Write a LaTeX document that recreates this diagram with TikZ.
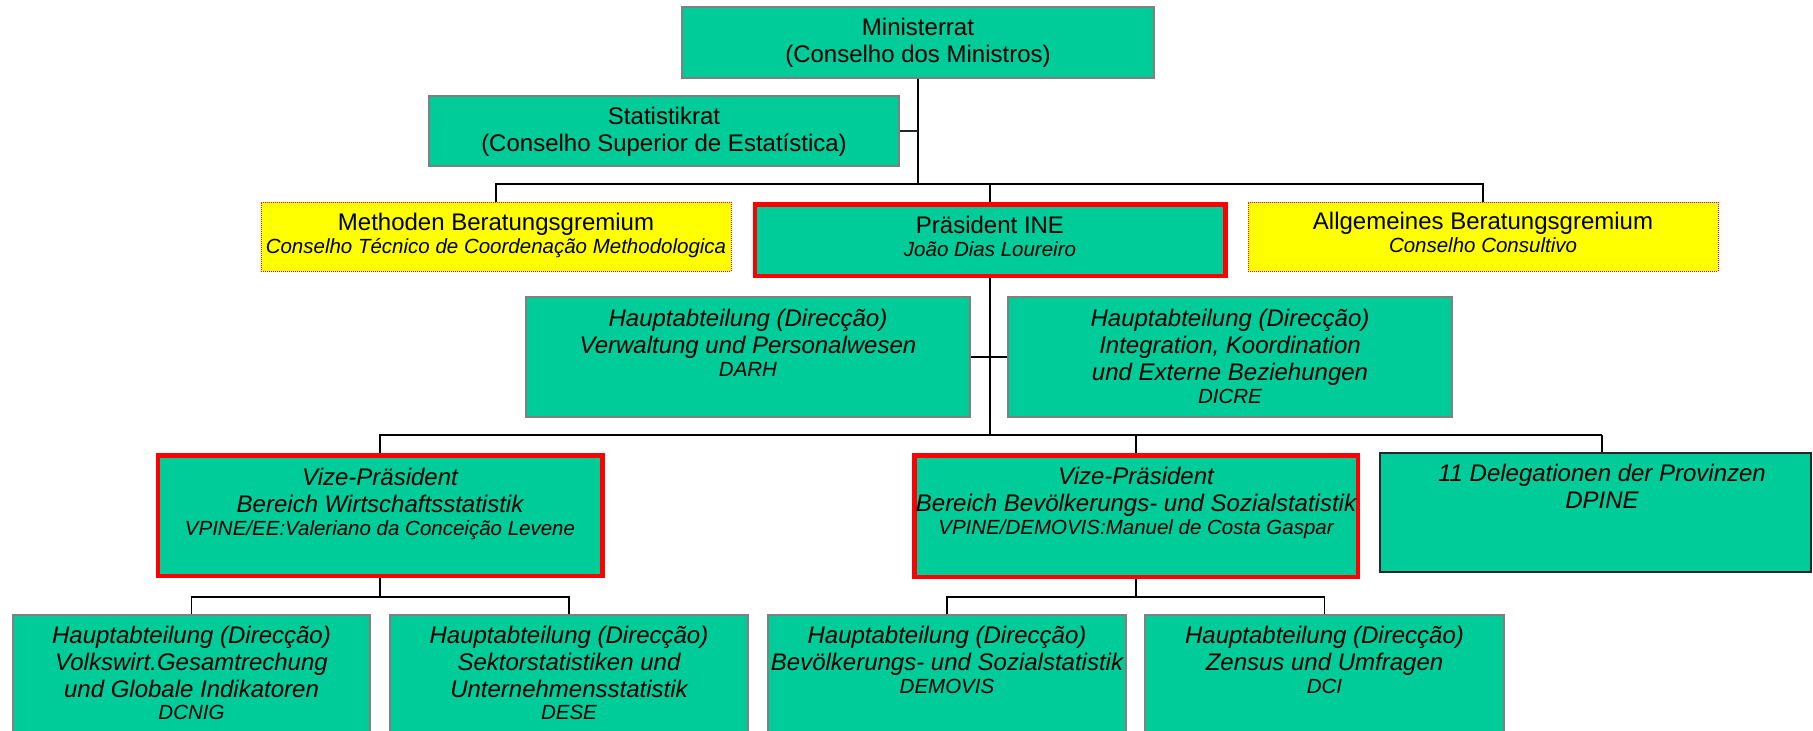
\documentclass[tikz,border=0pt]{standalone}
\usepackage{fontspec}
\setmainfont{Liberation Sans}
\definecolor{ingreen}{HTML}{00CC99}
\definecolor{boxgray}{HTML}{808080}
\definecolor{advyellow}{HTML}{FFFF00}
\newcommand\sm[1]{{\fontsize{20.5}{24}\selectfont\itshape #1}}
\newcommand\st{\rule{0pt}{19pt}}
\tikzset{
  box/.style={draw=boxgray, line width=1.5pt, fill=ingreen, inner sep=0pt},
  vpbox/.style={draw=red, line width=4.5pt, fill=ingreen, inner sep=0pt},
  advbox/.style={draw=red, densely dotted, line width=1pt, fill=advyellow, inner sep=0pt},
  delbox/.style={draw=black!85, line width=1.5pt, fill=ingreen, inner sep=0pt},
  txt/.style={align=center, inner sep=0pt, anchor=north, font=\fontsize{24}{27}\selectfont},
  itxt/.style={txt, font=\fontsize{24}{27}\selectfont\itshape},
  conn/.style={draw=black, line width=1.8pt},
}
\begin{document}
\begin{tikzpicture}[x=1pt,y=-1pt]
\useasboundingbox (0,0) rectangle (1813,731);
\clip (0,0) rectangle (1813,731);
% junctions
\coordinate (j1) at (918,184);
\coordinate (j2) at (990,435);
\coordinate (dj) at (1602,435);
\coordinate (j3) at (380,597);
\coordinate (j4) at (1136,597);
% connectors (drawn first, boxes on top)
\node[box, minimum width=472, minimum height=71] (min) at (918,42.5) {};
\node[box, minimum width=470, minimum height=70] (stat) at (664,131) {};
\node[advbox, minimum width=470, minimum height=69] (meth) at (496,236.5) {};
\node[vpbox, minimum width=470.5, minimum height=71.5] (pres) at (990,240) {};
\node[advbox, minimum width=470, minimum height=69] (allg) at (1483,236.5) {};
\node[box, minimum width=444, minimum height=120] (darh) at (748,357) {};
\node[box, minimum width=444, minimum height=120] (dicre) at (1230,357) {};
\node[vpbox, minimum width=444.5, minimum height=120.5] (vpa) at (380,515.5) {};
\node[vpbox, minimum width=443.5, minimum height=121.5] (vpb) at (1136,516) {};
\node[delbox, minimum width=431, minimum height=119] (del) at (1595.5,512.5) {};
\node[box, minimum width=357, minimum height=155] (dcnig) at (191.5,692.5) {};
\node[box, minimum width=358, minimum height=155] (dese) at (569,692.5) {};
\node[box, minimum width=358, minimum height=155] (demovis) at (947,692.5) {};
\node[box, minimum width=359, minimum height=155] (dci) at (1324.5,692.5) {};
% connectors
\draw[conn] (min.south) -- (j1);
\draw[conn, line width=2.4pt, draw=black!85] (stat.east) -- (stat.east -| min.south);
\draw[conn] (meth.north) |- (j1);
\draw[conn] (allg.north) |- (j1);
\draw[conn] (pres.north) -- (pres.north |- j1);
\draw[conn] (pres.south) -- (j2);
\draw[conn] (darh.east) -- (dicre.west);
\draw[conn] (vpa.north) |- (dj);
\draw[conn] (dj) -- (dj |- del.north);
\draw[conn] (vpb.north) -- (vpb.north |- j2);
\draw[conn] (vpa.south) -- (j3);
\draw[conn] (dcnig.north) |- (j3);
\draw[conn] (dese.north) |- (j3);
\draw[conn] (vpb.south) -- (j4);
\draw[conn] (demovis.north) |- (j4);
\draw[conn] (dci.north) |- (j4);
% texts
\node[txt] (tmin) at (918,16) {\st Ministerrat\\(Conselho dos Ministros)};
\node[txt] (tstat) at (664,105) {\st Statistikrat\\(Conselho Superior de Estatística)};
\node[txt] (tmeth) at (496,211) {\st Methoden Beratungsgremium\\[-3.5pt]\sm{Conselho Técnico de Coordenação Methodologica}};
\node[txt] (tpres) at (990,214) {\st Präsident INE\\[-3.5pt]\sm{João Dias Loureiro}};
\node[txt] (tallg) at (1483,210) {\st Allgemeines Beratungsgremium\\[-3.5pt]\sm{Conselho Consultivo}};
\node[itxt] (tdarh) at (748,307) {\st Hauptabteilung (Direcção)\\Verwaltung und Personalwesen\\[-3.5pt]\sm{DARH}};
\node[itxt] (tdicre) at (1230,307) {\st Hauptabteilung (Direcção)\\Integration, Koordination\\und Externe Beziehungen\\[-3.5pt]\sm{DICRE}};
\node[itxt] (tvpa) at (380,466) {\st Vize-Präsident\\Bereich Wirtschaftsstatistik\\[-3.5pt]\sm{VPINE/EE:Valeriano da Conceição Levene}};
\node[itxt] (tvpb) at (1136,465) {\st Vize-Präsident\\Bereich Bevölkerungs- und Sozialstatistik\\[-3.5pt]\sm{VPINE/DEMOVIS:Manuel de Costa Gaspar}};
\node[itxt] (tdel) at (1602,462) {\st 11 Delegationen der Provinzen\\DPINE};
\node[itxt] (tdcnig) at (191.5,624) {\st Hauptabteilung (Direcção)\\Volkswirt.Gesamtrechung\\und Globale Indikatoren\\[-5pt]\sm{DCNIG}};
\node[itxt] (tdese) at (569,624) {\st Hauptabteilung (Direcção)\\Sektorstatistiken und\\Unternehmensstatistik\\[-5pt]\sm{DESE}};
\node[itxt] (tdemovis) at (947,624) {\st Hauptabteilung (Direcção)\\Bevölkerungs- und Sozialstatistik\\[-3.5pt]\sm{DEMOVIS}};
\node[itxt] (tdci) at (1324.5,624) {\st Hauptabteilung (Direcção)\\Zensus und Umfragen\\[-3.5pt]\sm{DCI}};
\end{tikzpicture}
\end{document}
